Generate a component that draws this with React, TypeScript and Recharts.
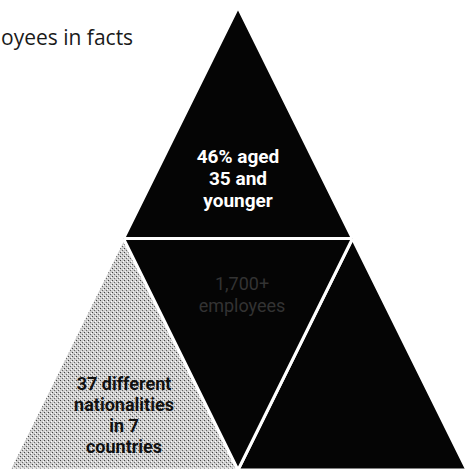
import { Area, ComposedChart, XAxis, YAxis } from 'recharts';

// x positions of the triangle vertices (half-base units), big triangle base 0..4, apex at 2
const xs = [0, 1, 2, 3, 4];
// each triangle as a [low, high] range per x; null where the triangle does not reach
const topTri: ([number, number] | null)[] = [null, [1, 1], [1, 2], [1, 1], null];
const leftTri: ([number, number] | null)[] = [[0, 0], [0, 1], [0, 0], null, null];
const rightTri: ([number, number] | null)[] = [null, null, [0, 0], [0, 1], [0, 0]];
const middleTri: ([number, number] | null)[] = [null, [1, 1], [0, 1], [1, 1], null];

const title = 'oyees in facts';
const topLines = ['46% aged', '35 and', 'younger'];
const middleLines = ['1,700+', 'employees'];
const leftLines = ['37 different', 'nationalities', 'in 7', 'countries'];

const data = xs.map((x, i) => ({
  x,
  top: topTri[i],
  left: leftTri[i],
  right: rightTri[i],
  middle: middleTri[i],
}));

const W = 466;
const H = 472;

export default function App() {
  return (
    <div style={{ position: 'absolute', left: 0, top: 0, width: W, height: H, background: '#fff' }}>
      <ComposedChart width={W} height={H} data={data} margin={{ top: 0, right: 0, bottom: 0, left: 0 }}>
        <defs>
          <pattern id="stipple" width="4" height="4" patternUnits="userSpaceOnUse">
            <rect width="4" height="4" fill="#cdcdcd" />
            <rect x="0" y="0" width="1" height="1" fill="#444" />
            <rect x="2" y="2" width="1" height="1" fill="#666" />
            <rect x="3" y="1" width="1" height="1" fill="#fff" />
            <rect x="1" y="3" width="1" height="1" fill="#f2f2f2" />
          </pattern>
        </defs>
        <XAxis dataKey="x" type="number" domain={[-0.0786, 3.9913]} allowDataOverflow hide />
        <YAxis type="number" domain={[-0.0086, 2.0302]} allowDataOverflow hide />
        <Area type="linear" dataKey="left" fill="url(#stipple)" fillOpacity={1} stroke="#fff" strokeWidth={3} isAnimationActive={false} dot={false} activeDot={false} />
        <Area type="linear" dataKey="right" fill="#050505" fillOpacity={1} stroke="#fff" strokeWidth={3} isAnimationActive={false} dot={false} activeDot={false} />
        <Area type="linear" dataKey="top" fill="#050505" fillOpacity={1} stroke="#fff" strokeWidth={3} isAnimationActive={false} dot={false} activeDot={false} />
        <Area type="linear" dataKey="middle" fill="#050505" fillOpacity={1} stroke="#fff" strokeWidth={3} isAnimationActive={false} dot={false} activeDot={false} />
      </ComposedChart>
      <svg width={W} height={H} style={{ position: 'absolute', left: 0, top: 0, pointerEvents: 'none' }}>
        <text x={1} y={45} textAnchor="start" fontFamily="'Open Sans', sans-serif" fontSize={21} fill="#1a1a1a">
          {title}
        </text>
        {topLines.map((t, i) => (
          <text key={t} x={238} y={163 + i * 22} textAnchor="middle" fontFamily="Roboto, sans-serif" fontWeight={700} fontSize={19} fill="#fff">
            {t}
          </text>
        ))}
        {middleLines.map((t, i) => (
          <text key={t} x={242} y={290 + i * 22} textAnchor="middle" fontFamily="Roboto, sans-serif" fontSize={18} fill="#333">
            {t}
          </text>
        ))}
        {leftLines.map((t, i) => (
          <text key={t} x={124} y={390 + i * 21} textAnchor="middle" fontFamily="Roboto, sans-serif" fontWeight={700} fontSize={18} fill="#111">
            {t}
          </text>
        ))}
      </svg>
    </div>
  );
}
